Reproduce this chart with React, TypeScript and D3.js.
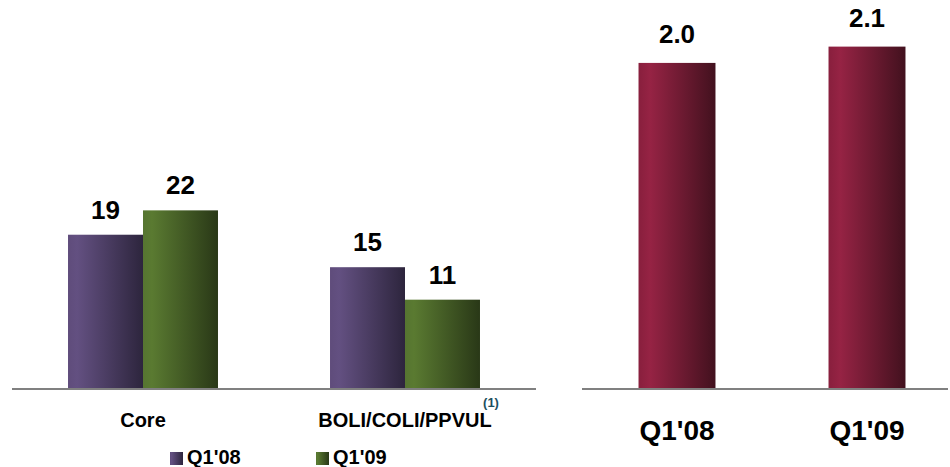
import React from "react";
import * as d3 from "d3";

const leftCategories = ["Core", "BOLI/COLI/PPVUL"];
const seriesNames = ["Q1'08", "Q1'09"];
const q108Values = [19, 15];
const q109Values = [22, 11];
const rightCategories = ["Q1'08", "Q1'09"];
const rightValues = [2.0, 2.1];
const rightLabels = ["2.0", "2.1"];

const W = 950;
const H = 467;
const BASE = 389;
const FONT = "'Liberation Sans', Arial, Helvetica, sans-serif";

export default function App() {
  const x0 = d3.scaleBand<string>().domain(leftCategories).range([12, 536]).padding(0);
  const x1 = d3
    .scaleBand<string>()
    .domain(seriesNames)
    .range([0, x0.bandwidth()])
    .paddingInner(0)
    .paddingOuter(0.747);
  const yL = d3.scaleLinear().domain([0, 25]).range([BASE, BASE - 203]);

  const xR = d3
    .scaleBand<string>()
    .domain(rightCategories)
    .range([582, 962])
    .paddingInner(0.595)
    .paddingOuter(0.2975);
  const yR = d3.scaleLinear().domain([0, 2.3]).range([BASE, BASE - 375]);

  const seriesValues = [q108Values, q109Values];
  const grads = ["gPurple", "gGreen"];

  return (
    <svg
      width={W}
      height={H}
      style={{ position: "absolute", left: 0, top: 0, fontFamily: FONT }}
    >
      <defs>
        <linearGradient id="gPurple" x1="0" x2="1" y1="0" y2="0">
          <stop offset="0" stopColor="#5f4c7b" />
          <stop offset="0.12" stopColor="#635081" />
          <stop offset="1" stopColor="#2d253d" />
        </linearGradient>
        <linearGradient id="gGreen" x1="0" x2="1" y1="0" y2="0">
          <stop offset="0" stopColor="#567531" />
          <stop offset="0.12" stopColor="#5a7a31" />
          <stop offset="1" stopColor="#293817" />
        </linearGradient>
        <linearGradient id="gMaroon" x1="0" x2="1" y1="0" y2="0">
          <stop offset="0" stopColor="#881f3d" />
          <stop offset="0.15" stopColor="#962344" />
          <stop offset="1" stopColor="#42111e" />
        </linearGradient>
      </defs>

      {/* Left chart bars */}
      {leftCategories.map((cat, ci) => (
        <g key={cat} transform={`translate(${x0(cat)},0)`}>
          {seriesNames.map((s, si) => {
            const v = seriesValues[si][ci];
            const bx = x1(s)!;
            const bw = x1.bandwidth();
            return (
              <g key={s}>
                <rect
                  x={bx}
                  y={yL(v)}
                  width={bw}
                  height={BASE - yL(v)}
                  fill={`url(#${grads[si]})`}
                />
                <text
                  x={bx + bw / 2}
                  y={yL(v) - 16}
                  textAnchor="middle"
                  fontSize={26}
                  fontWeight="bold"
                  fill="#000"
                >
                  {v}
                </text>
              </g>
            );
          })}
        </g>
      ))}
      <line x1={12} x2={536} y1={BASE} y2={BASE} stroke="#808080" strokeWidth={2} />

      {/* Left category labels */}
      {leftCategories.map((cat) => (
        <text
          key={cat}
          x={x0(cat)! + x0.bandwidth() / 2}
          y={427}
          textAnchor="middle"
          fontSize={20}
          fontWeight="bold"
          fill="#000"
        >
          {cat}
        </text>
      ))}
      <text x={491} y={407} textAnchor="middle" fontSize={13} fontWeight="bold" fill="#1d4f5f">
        (1)
      </text>

      {/* Legend */}
      {seriesNames.map((s, i) => {
        const lx = [170, 316][i];
        return (
          <g key={s}>
            <rect x={lx} y={452} width={13} height={13} fill={`url(#${grads[i]})`} />
            <text x={lx + 17} y={464} fontSize={20} fontWeight="bold" fill="#000">
              {s}
            </text>
          </g>
        );
      })}

      {/* Right chart */}
      {rightCategories.map((c, i) => {
        const v = rightValues[i];
        const bx = xR(c)!;
        const bw = xR.bandwidth();
        return (
          <g key={c}>
            <rect x={bx} y={yR(v)} width={bw} height={BASE - yR(v)} fill="url(#gMaroon)" />
            <text
              x={bx + bw / 2}
              y={yR(v) - 20}
              textAnchor="middle"
              fontSize={26}
              fontWeight="bold"
              fill="#000"
            >
              {rightLabels[i]}
            </text>
            <text
              x={bx + bw / 2}
              y={440}
              textAnchor="middle"
              fontSize={28}
              fontWeight="bold"
              fill="#000"
            >
              {c}
            </text>
          </g>
        );
      })}
      <line x1={582} x2={948} y1={BASE} y2={BASE} stroke="#808080" strokeWidth={2} />
    </svg>
  );
}
